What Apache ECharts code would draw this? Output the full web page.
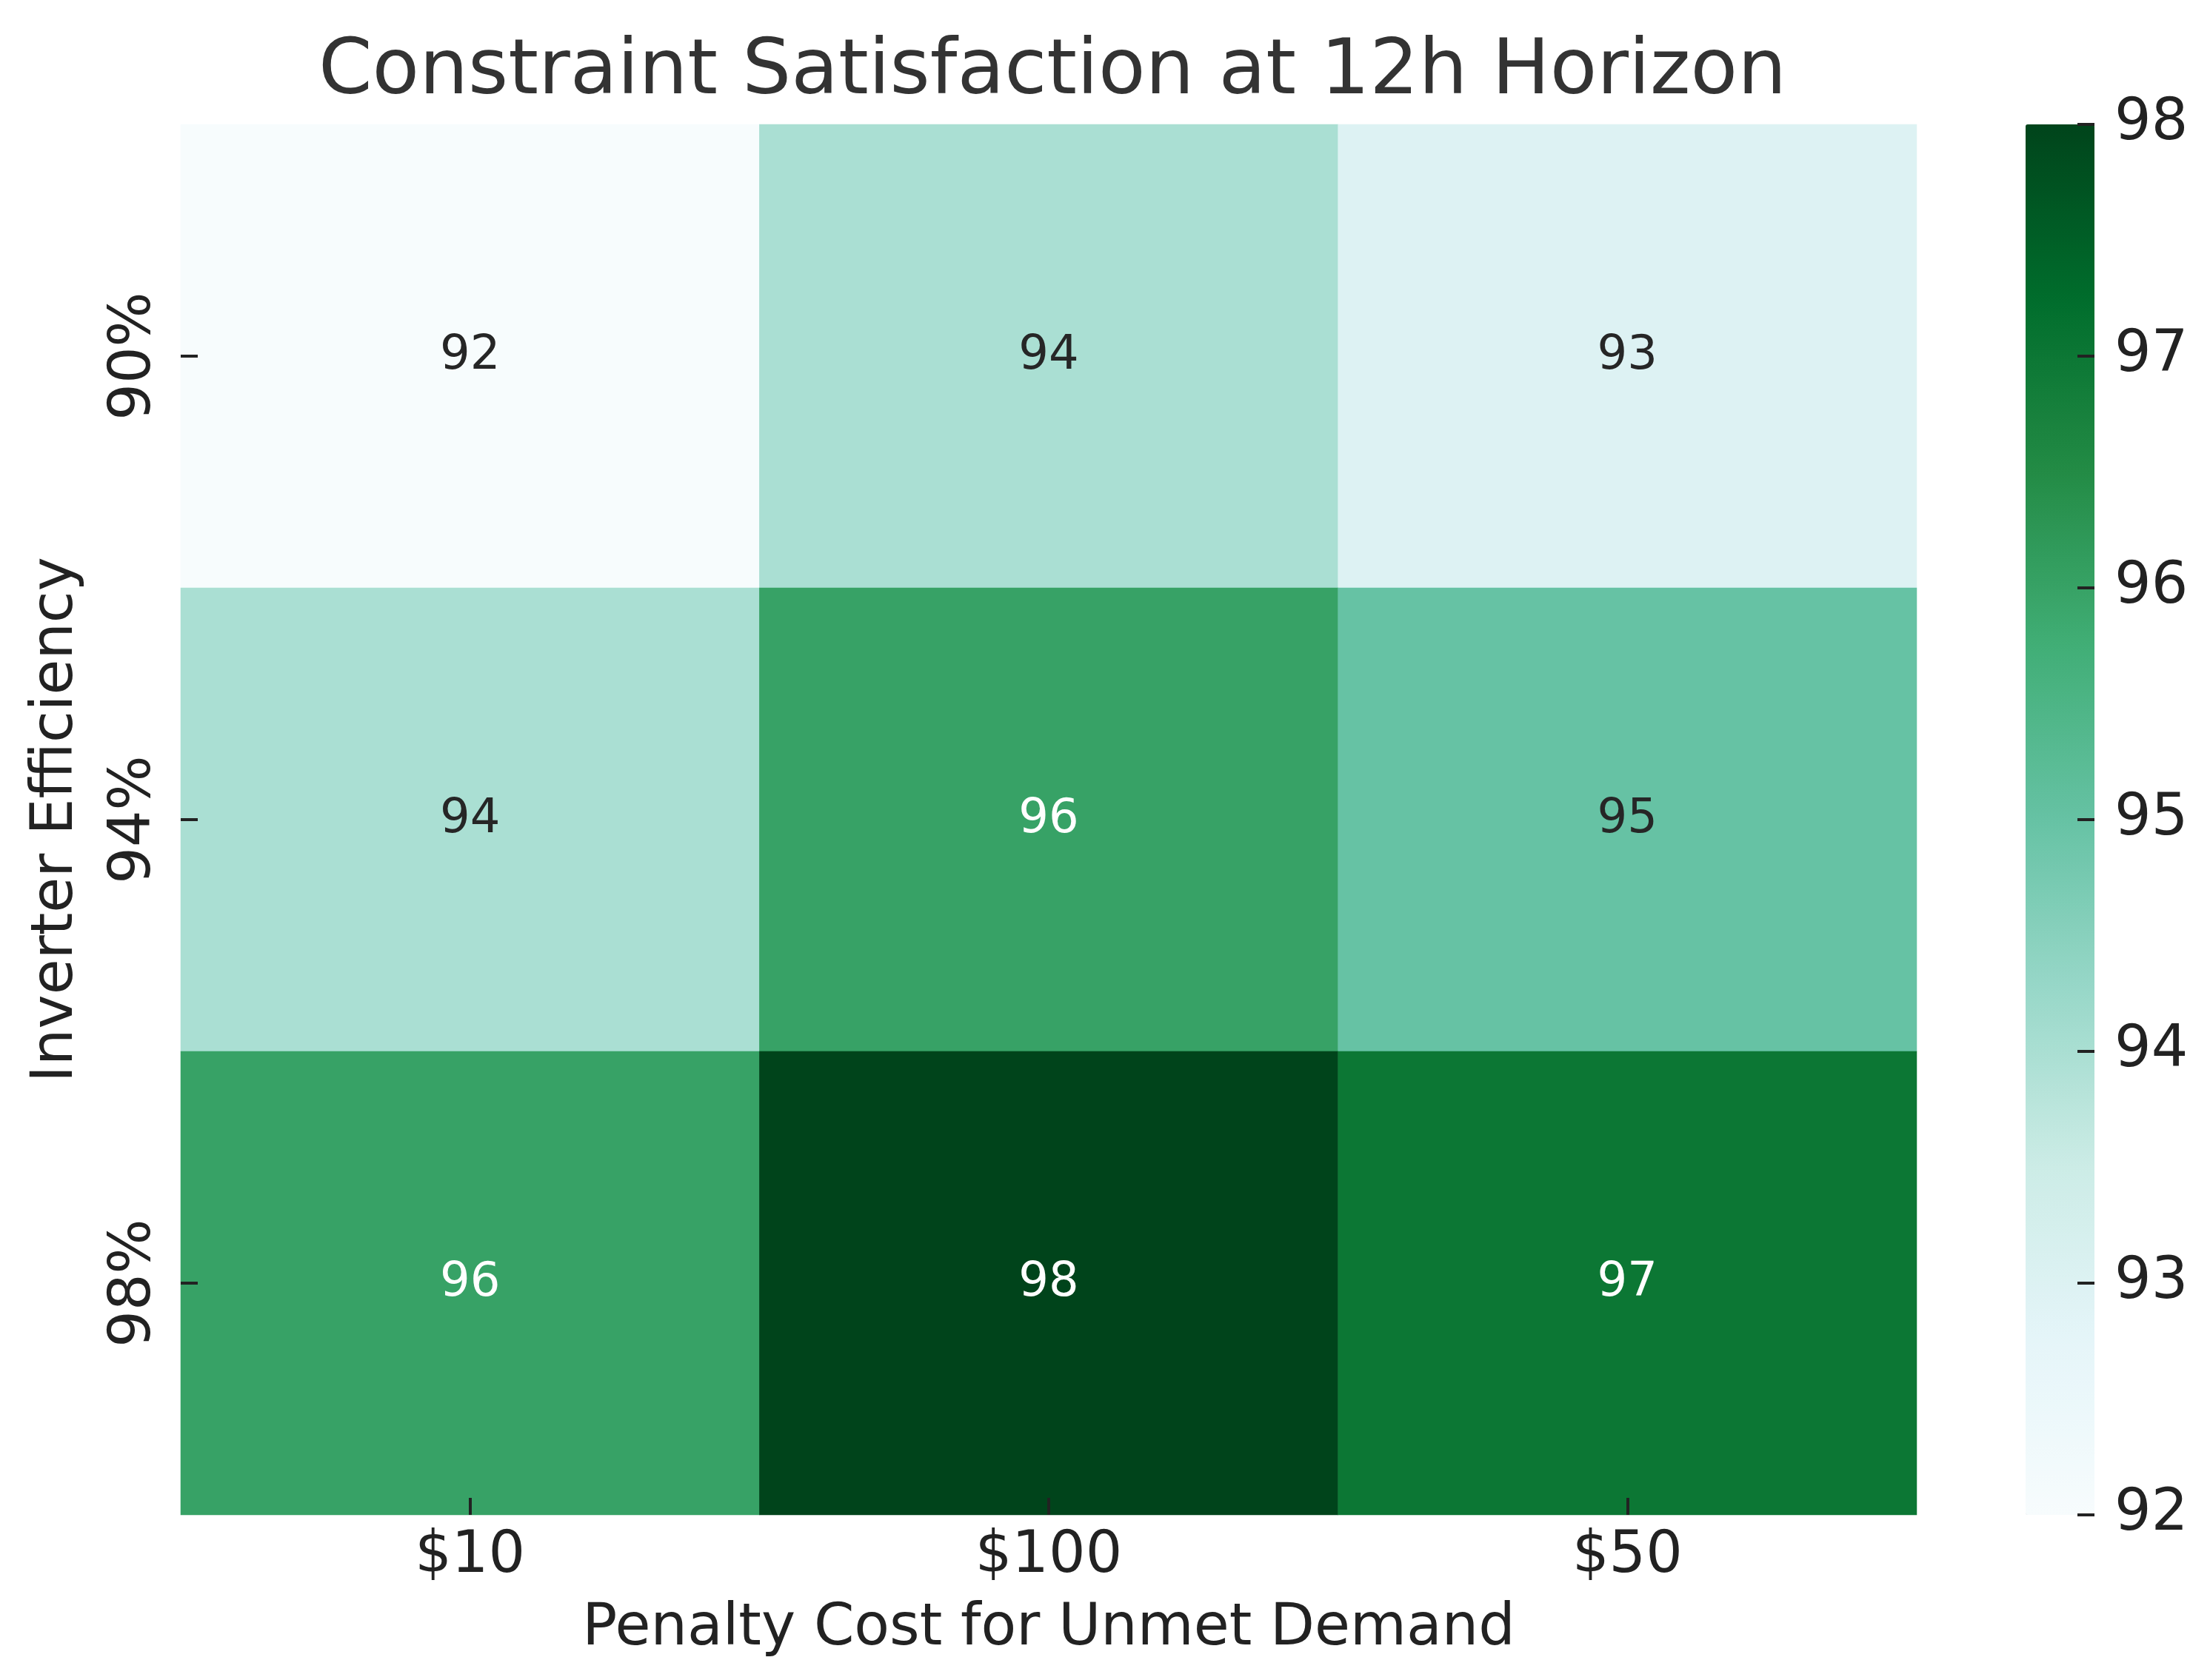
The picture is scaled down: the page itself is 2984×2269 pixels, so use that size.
<!DOCTYPE html>
<html>
<head>
<meta charset="utf-8">
<script src="https://cdn.jsdelivr.net/npm/echarts@6/dist/echarts.min.js"></script>
<style>
  html, body { margin: 0; padding: 0; background: #fff; }
  #chart { width: 2984px; height: 2269px; }
</style>
</head>
<body>
<div id="chart"></div>
<script>
// data
const penaltyCosts = ['$10', '$100', '$50']
const efficiencies = ['90%', '94%', '98%']
const row90 = [92, 94, 93]
const row94 = [94, 96, 95]
const row98 = [96, 98, 97]
const colorbarMin = 92
const colorbarMax = 98

// BuGn stops
const BuGn = ['#f7fcfd', '#e5f5f9', '#ccece6', '#99d8c9', '#66c2a4', '#41ae76', '#238b45', '#006d2c', '#00441b']

const FONT = 'DejaVu Sans'
const TEXT = '#222'

const rows = [row90, row94, row98]
const cells = []
rows.forEach((row, yi) => {
  row.forEach((v, xi) => {
    cells.push({
      value: [xi, yi, v],
      label: { color: v >= 96 ? '#ffffff' : '#262626' }
    })
  })
})

// ticks point inward like the matplotlib style used in the picture
const tick = { show: true, inside: true, length: 23, lineStyle: { color: TEXT, width: 4 } }
// line kept on (ticks need it) but invisible; onZero off so the colorbar axis stays on the right edge
const hiddenLine = { show: true, onZero: false, lineStyle: { color: 'rgba(0,0,0,0)', width: 0 } }

const chart = echarts.init(document.getElementById('chart'))

chart.setOption({
  animation: false,
  backgroundColor: '#fff',
  textStyle: { fontFamily: FONT },
  title: {
    text: 'Constraint Satisfaction at 12h Horizon',
    left: 1416,
    top: 42,
    textAlign: 'center',
    textStyle: { fontFamily: FONT, fontSize: 104, fontWeight: 'normal', color: '#333' }
  },
  grid: [
    { left: 244, right: 396, top: 168, bottom: 223, outerBoundsMode: 'none' },
    { left: 2735, width: 93, top: 168, bottom: 223, outerBoundsMode: 'none' }
  ],
  xAxis: [
    {
      type: 'category',
      data: penaltyCosts,
      zlevel: 1,
      name: 'Penalty Cost for Unmet Demand',
      nameLocation: 'middle',
      nameGap: 116,
      nameTextStyle: { fontFamily: FONT, fontSize: 78, color: TEXT },
      axisLine: hiddenLine,
      axisTick: Object.assign({ alignWithLabel: true }, tick),
      axisLabel: { margin: 18, fontSize: 78, color: TEXT, fontFamily: FONT },
      splitLine: { show: false }
    },
    { gridIndex: 1, type: 'value', show: false, min: 0, max: 1 }
  ],
  yAxis: [
    {
      type: 'category',
      data: efficiencies,
      inverse: true,
      zlevel: 1,
      name: 'Inverter Efficiency',
      nameLocation: 'middle',
      nameGap: 128,
      nameTextStyle: { fontFamily: FONT, fontSize: 78, color: TEXT },
      axisLine: hiddenLine,
      axisTick: Object.assign({ alignWithLabel: true }, tick),
      axisLabel: { margin: 23, rotate: 90, fontSize: 78, color: TEXT, fontFamily: FONT },
      splitLine: { show: false }
    },
    {
      gridIndex: 1,
      type: 'value',
      position: 'right',
      min: colorbarMin,
      max: colorbarMax,
      interval: 1,
      zlevel: 1,
      axisLine: hiddenLine,
      axisTick: tick,
      axisLabel: { margin: 27, fontSize: 78, color: TEXT, fontFamily: FONT },
      splitLine: { show: false }
    }
  ],
  visualMap: {
    type: 'continuous',
    min: colorbarMin,
    max: colorbarMax,
    calculable: false,
    seriesIndex: 0,
    dimension: 2,
    orient: 'vertical',
    left: 2735,
    top: 168,
    padding: 0,
    itemWidth: 93,
    itemHeight: 1878,
    inRange: { color: BuGn },
    hoverLink: false
  },
  series: [
    {
      type: 'heatmap',
      xAxisIndex: 0,
      yAxisIndex: 0,
      data: cells,
      itemStyle: { borderWidth: 0 },
      label: {
        show: true,
        fontSize: 64,
        fontFamily: FONT,
        formatter: (p) => String(p.value[2])
      },
      emphasis: { disabled: true }
    }
  ]
})
</script>
</body>
</html>
